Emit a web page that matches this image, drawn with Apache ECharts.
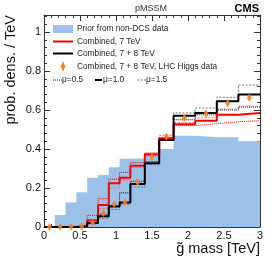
<!DOCTYPE html>
<html><head><meta charset="utf-8">
<script src="https://cdn.jsdelivr.net/npm/echarts@6/dist/echarts.min.js"></script>
<style>html,body{margin:0;padding:0;background:#fff}#c{width:274px;height:263px}</style>
</head><body><div id="c"></div>
<script>
const edges = [0,0.15,0.3,0.45,0.6,0.75,0.9,1.05,1.2,1.4,1.6,1.8,2.1,2.4,2.7,3.0];
const prior   = [0.003,0.062,0.125,0.178,0.253,0.267,0.306,0.350,0.352,0.380,0.400,0.468,0.460,0.460,0.440];
const comb7   = [0,0,0,0.003,0.035,0.113,0.224,0.252,0.314,0.372,0.455,0.527,0.545,0.575,0.585];
const comb7lo = [0,0,0,0.010,0.060,0.145,0.245,0.280,0.330,0.380,0.445,0.520,0.530,0.540,0.545];
const comb7hi = [0,0,0,0.002,0.025,0.095,0.200,0.240,0.305,0.375,0.470,0.535,0.560,0.605,0.620];
const comb78   = [0,0,0,0.004,0.020,0.055,0.105,0.125,0.220,0.327,0.446,0.570,0.585,0.645,0.680];
const comb78lo = [0,0,0,0.005,0.025,0.065,0.110,0.175,0.235,0.335,0.450,0.550,0.575,0.600,0.615];
const comb78hi = [0,0,0,0.003,0.015,0.045,0.090,0.115,0.205,0.320,0.460,0.585,0.610,0.665,0.728];
const higgs    = [0.001,0.001,0.001,0.003,0.022,0.070,0.118,0.128,0.230,0.360,0.463,0.560,0.582,0.634,0.663];
const higgsErr = [0.004,0.004,0.004,0.005,0.008,0.010,0.012,0.012,0.014,0.015,0.015,0.015,0.015,0.015,0.015];
const xTicks = [0,0.5,1,1.5,2,2.5,3];
const yTicks = [0,0.2,0.4,0.6,0.8,1];

const FONT = "'Liberation Sans', Arial, Helvetica, sans-serif";
const BLUE = '#9bc1e8';
const ORANGE = '#ff7a1a';

function stepData(vals){
  const d = vals.map((v,i)=>[edges[i], v]);
  d.push([edges[edges.length-1], vals[vals.length-1]]);
  return d;
}
const centers = edges.slice(0,-1).map((e,i)=>(e+edges[i+1])/2);

function lineSeries(vals, color, width, type, z){
  return {type:'line', step:'end', data:stepData(vals), showSymbol:false, symbol:'none',
    lineStyle:{color:color, width:width, type:type}, z:z, animation:false, silent:true};
}

const chart = echarts.init(document.getElementById('c'), null, {renderer:'canvas'});
const axisCol = '#333';
const tickCommon = {inside:true, length:6, lineStyle:{color:axisCol, width:1}};
const minorCommon = {show:true, splitNumber:5, length:3, lineStyle:{color:axisCol, width:1}};

chart.setOption({
  animation:false,
  grid:{left:44, right:14, top:15, bottom:36},
  xAxis:[
    {type:'value', min:0, max:3, interval:0.5, position:'bottom',
     axisLine:{show:true, onZero:false, lineStyle:{color:axisCol, width:1}},
     axisTick:tickCommon, minorTick:minorCommon, splitLine:{show:false},
     axisLabel:{fontFamily:FONT, fontSize:11, color:'#111', margin:3,
       formatter:v=> xTicks.includes(v) ? String(v) : ''}},
    {type:'value', min:0, max:3, interval:0.5, position:'top',
     axisLine:{show:true, onZero:false, lineStyle:{color:axisCol, width:1}},
     axisTick:tickCommon, minorTick:minorCommon, splitLine:{show:false}, axisLabel:{show:false}}
  ],
  yAxis:[
    {type:'value', min:0, max:1.087, interval:0.2, position:'left',
     axisLine:{show:true, onZero:false, lineStyle:{color:axisCol, width:1}},
     axisTick:tickCommon, minorTick:minorCommon, splitLine:{show:false},
     axisLabel:{fontFamily:FONT, fontSize:11, color:'#111', margin:3, showMaxLabel:false,
       formatter:v=> yTicks.some(t=>Math.abs(t-v)<1e-6) ? String(+v.toFixed(1)) : ''}},
    {type:'value', min:0, max:1.087, interval:0.2, position:'right',
     axisLine:{show:true, onZero:false, lineStyle:{color:axisCol, width:1}},
     axisTick:tickCommon, minorTick:minorCommon, splitLine:{show:false}, axisLabel:{show:false}}
  ],
  series:[
    {type:'line', step:'end', data:stepData(prior), showSymbol:false, symbol:'none',
     lineStyle:{width:0, color:BLUE}, areaStyle:{color:BLUE, opacity:1}, z:1, animation:false, silent:true},
    lineSeries(comb7hi, '#ff6a6a', 1, [2,1.5], 3),
    lineSeries(comb7lo, '#ee0000', 1, [1,1], 3),
    lineSeries(comb78hi, '#777', 1, [2,1.5], 3),
    lineSeries(comb78lo, '#111', 1, [1,1], 3),
    lineSeries(comb7, '#ff0000', 2, 'solid', 4),
    lineSeries(comb78, '#000000', 2, 'solid', 5),
    {type:'custom', z:6, animation:false, silent:true,
     data: centers.map((c,i)=>[c, higgs[i], higgsErr[i]]),
     renderItem:(params, api)=>{
       const x = api.value(0), v = api.value(1), e = api.value(2);
       const p1 = api.coord([x, v-e]), p2 = api.coord([x, v+e]);
       return {type:'line', shape:{x1:p1[0], y1:p1[1], x2:p2[0], y2:p2[1]},
               style:{stroke:ORANGE, lineWidth:1.5}};
     }},
    {type:'scatter', z:7, symbol:'diamond', symbolSize:[5,8], animation:false, silent:true,
     itemStyle:{color:ORANGE}, data: centers.map((c,i)=>[c, higgs[i]])}
  ],
  graphic:[
    {type:'text', left:135, top:4, style:{text:'pMSSM', fontFamily:FONT, fontSize:9, fill:'#333'}},
    {type:'text', right:15, top:3, style:{text:'CMS', fontFamily:FONT, fontSize:11, fontWeight:'bold', fill:'#000'}},
    {type:'text', x:260, y:249, style:{text:'g\u0303 mass [TeV]', fontFamily:FONT, fontSize:14.5, fill:'#111', align:'right', verticalAlign:'middle'}},
    {type:'text', x:11, y:15, rotation:Math.PI/2, style:{text:'prob. dens. / TeV', fontFamily:FONT, fontSize:14.5, fill:'#111', align:'right', verticalAlign:'middle'}},
    // legend
    {type:'rect', shape:{x:53, y:25, width:20, height:8}, style:{fill:BLUE}, z:20},
    {type:'text', x:77, y:29, style:{text:'Prior from non-DCS data', fontFamily:FONT, fontSize:8.3, fill:'#222', verticalAlign:'middle'}, z:20},
    {type:'line', shape:{x1:53, y1:41.5, x2:73, y2:41.5}, style:{stroke:'#ff0000', lineWidth:2}, z:20},
    {type:'text', x:77, y:41.5, style:{text:'Combined, 7 TeV', fontFamily:FONT, fontSize:8.3, fill:'#222', verticalAlign:'middle'}, z:20},
    {type:'line', shape:{x1:53, y1:53.5, x2:73, y2:53.5}, style:{stroke:'#000', lineWidth:2}, z:20},
    {type:'text', x:77, y:53.5, style:{text:'Combined, 7 + 8 TeV', fontFamily:FONT, fontSize:8.3, fill:'#222', verticalAlign:'middle'}, z:20},
    {type:'line', shape:{x1:63, y1:62, x2:63, y2:71}, style:{stroke:ORANGE, lineWidth:1.2}, z:20},
    {type:'polygon', shape:{points:[[63,62.5],[65.5,66.5],[63,70.5],[60.5,66.5]]}, style:{fill:ORANGE}, z:21},
    {type:'text', x:77, y:66.5, style:{text:'Combined, 7 + 8 TeV, LHC Higgs data', fontFamily:FONT, fontSize:8.3, fill:'#222', verticalAlign:'middle'}, z:20},
    {type:'line', shape:{x1:53, y1:80, x2:62, y2:80}, style:{stroke:'#111', lineWidth:1, lineDash:[1,1]}, z:20},
    {type:'text', x:62, y:80, style:{text:'\u03bc=0.5', fontFamily:FONT, fontSize:8.3, fill:'#222', verticalAlign:'middle'}, z:20},
    {type:'line', shape:{x1:95, y1:80, x2:102, y2:80}, style:{stroke:'#000', lineWidth:2}, z:20},
    {type:'text', x:103, y:80, style:{text:'\u03bc=1.0', fontFamily:FONT, fontSize:8.3, fill:'#222', verticalAlign:'middle'}, z:20},
    {type:'line', shape:{x1:137, y1:80, x2:146, y2:80}, style:{stroke:'#777', lineWidth:1, lineDash:[2,1.5]}, z:20},
    {type:'text', x:146, y:80, style:{text:'\u03bc=1.5', fontFamily:FONT, fontSize:8.3, fill:'#222', verticalAlign:'middle'}, z:20}
  ]
});
</script></body></html>
